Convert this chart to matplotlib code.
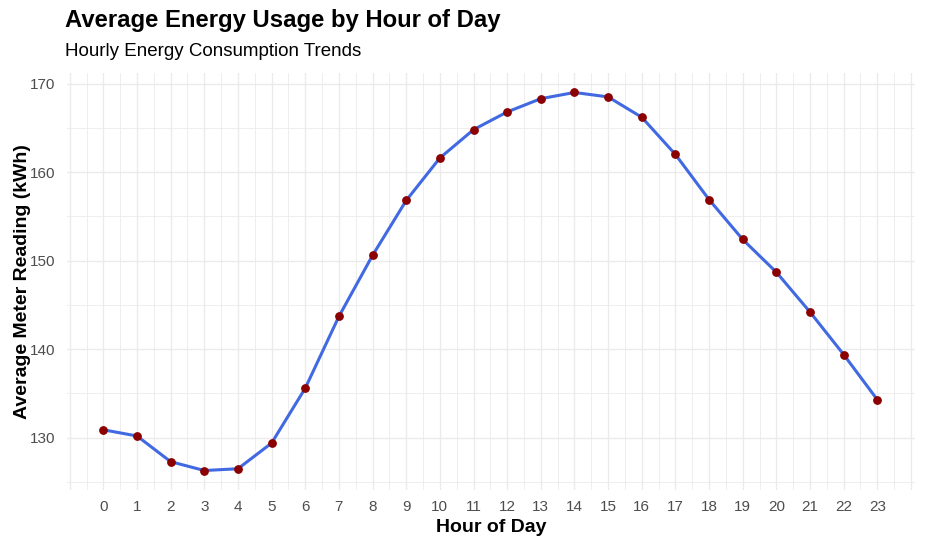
import matplotlib.pyplot as plt
import numpy as np

hours = list(range(24))
avg_kwh = [130.9, 130.2, 127.3, 126.3, 126.5, 129.4, 135.6, 143.7, 150.6, 156.8,
           161.6, 164.8, 166.8, 168.3, 169.0, 168.5, 166.2, 162.0, 156.9, 152.4,
           148.7, 144.2, 139.4, 134.3]
y_ticks = [130, 140, 150, 160, 170]

plt.rcParams["font.family"] = ["Liberation Sans", "DejaVu Sans"]

fig = plt.figure(figsize=(9.25, 5.47), dpi=100)
ax = fig.add_axes([67 / 925, 1 - 490 / 547, 848 / 925, 417 / 547])

ax.set_xlim(-1.08, 24.12)
ax.set_ylim(124.1, 171.2)

# grid like ggplot theme_minimal
for x in np.arange(-1, 24.01, 0.5):
    ax.axvline(x, color="#ebebeb", lw=0.6 if x % 1 else 1.0, zorder=0)
for y in np.arange(125, 171, 5):
    ax.axhline(y, color="#ebebeb", lw=0.6 if y % 10 else 1.0, zorder=0)

ax.plot(hours, avg_kwh, color="#4169E1", lw=2.2, solid_joinstyle="round", zorder=2)
ax.scatter(hours, avg_kwh, s=28, color="#8B0000", zorder=3)

ax.set_xticks(hours, [str(h) for h in hours])
ax.set_yticks(y_ticks, [str(v) for v in y_ticks])
ax.tick_params(length=0, labelsize=11, labelcolor="#4d4d4d")
ax.tick_params(axis="x", pad=7.5)
ax.tick_params(axis="y", pad=8.5)
for s in ax.spines.values():
    s.set_visible(False)

ax.set_xlabel("Hour of Day", fontsize=14, fontweight="bold", labelpad=3)
ax.set_ylabel("Average Meter Reading (kWh)", fontsize=14, fontweight="bold", labelpad=-1)

fig.text(65 / 925, 1 - 20 / 547, "Average Energy Usage by Hour of Day",
         fontsize=17.2, fontweight="bold", va="center", ha="left")
fig.text(65 / 925, 1 - 51 / 547, "Hourly Energy Consumption Trends",
         fontsize=13.5, va="center", ha="left")

fig.savefig("out.png", dpi=100)
